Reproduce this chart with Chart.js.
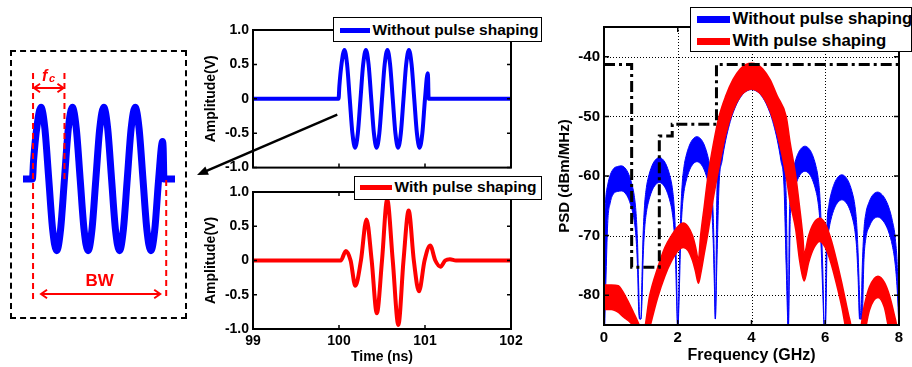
<!DOCTYPE html>
<html>
<head>
<meta charset="UTF-8">
<title>Pulse shaping: waveform and PSD</title>
<script src="https://cdn.jsdelivr.net/npm/chart.js"></script>
<style>
  body {
    margin: 0;
    width: 912px;
    height: 367px;
    position: relative;
    overflow: hidden;
    background: #fff;
    font-family: Arial, "Liberation Sans", sans-serif;
  }
  canvas { position: absolute; }
  .box {
    position: absolute;
    left: 10px; top: 50px; width: 177px; height: 269px;
    border: 2px dashed #000;
    box-sizing: border-box;
  }
  .legend {
    position: absolute;
    background: #fff;
    border: 1.5px solid #000;
    box-sizing: border-box;
    font-weight: bold;
    color: #000;
    white-space: nowrap;
    overflow: hidden;
  }
</style>
</head>
<body>

<div class="box"></div>
<canvas id="insetChart" width="175" height="268" style="left:11px; top:50px;"></canvas>
<canvas id="noShapeChart" width="360" height="170" style="left:190px; top:10px;"></canvas>
<canvas id="shapeChart" width="360" height="197" style="left:190px; top:170px;"></canvas>
<canvas id="psdChart" width="362" height="367" style="left:550px; top:0px;"></canvas>

<script>
  const seriesNames = ['Without pulse shaping', 'With pulse shaping'];
  const blue = '#0000ff';
  const red = '#ff0000';

  // time domain, without pulse shaping (ns, V)
  const timeA = [99, 99.5, 99.995, 100.004,
    100.031, 100.063, 100.094, 100.125, 100.156, 100.188, 100.219, 100.25,
    100.281, 100.313, 100.344, 100.375, 100.406, 100.438, 100.469, 100.5,
    100.531, 100.563, 100.594, 100.625, 100.656, 100.688, 100.719, 100.75,
    100.781, 100.813, 100.844, 100.875, 100.906, 100.938, 100.969, 101.0,
    101.031, 101.036, 101.042, 101.5, 102];
  const ampA = [0, 0, 0, 0.18,
    0.52, 0.71, 0.5, 0, -0.5, -0.71, -0.5, 0,
    0.5, 0.71, 0.5, 0, -0.5, -0.71, -0.5, 0,
    0.5, 0.71, 0.5, 0, -0.5, -0.71, -0.5, 0,
    0.5, 0.71, 0.5, 0, -0.5, -0.71, -0.5, 0,
    0.37, 0.3, 0, 0, 0];

  // time domain, with pulse shaping (ns, V)
  const timeB = [99, 99.5, 100.02, 100.08, 100.135, 100.19, 100.255, 100.32, 100.38,
    100.44, 100.5, 100.56, 100.625, 100.69, 100.75, 100.81, 100.87, 100.93,
    100.995, 101.06, 101.12, 101.18, 101.235, 101.29, 101.36, 101.5, 102];
  const ampB = [0, 0, 0, 0.14, 0, -0.37, 0, 0.6, 0,
    -0.77, 0, 0.89, 0, -0.94, 0, 0.73, 0, -0.45,
    0, 0.22, 0, -0.09, 0, 0.02, 0, 0, 0];

  const ampTicks = [-1, -0.5, 0, 0.5, 1];
  const ampTickLabels = ['-1.0', '-0.5', '0', '0.5', '1.0'];
  const timeTicks = [99, 100, 101, 102];
  const timeTickLabels = ['99', '100', '101', '102'];

  // inset markers (ns)
  const fcStart = 100.0;
  const fcEnd = 100.25;
  const bwEnd = 101.06;

  // PSD, without pulse shaping: upper and lower edge of the band (GHz, dBm/MHz)
  const freqBlue = [
    0, 0.05, 0.1, 0.17, 0.27, 0.37, 0.47, 0.57, 0.67, 0.77, 0.82, 0.87, 0.91, 0.94, 0.97,
    1.0, 1.03, 1.06, 1.1, 1.15, 1.2, 1.3, 1.4, 1.5, 1.6, 1.7, 1.8, 1.85, 1.9, 1.94, 1.97, 2.0,
    2.05, 2.08, 2.12, 2.17, 2.22, 2.32, 2.42, 2.52, 2.62, 2.72, 2.82, 2.87, 2.92, 2.96, 2.99, 3.02,
    3.06, 3.12, 3.2, 3.3, 3.4, 3.5, 3.6, 3.7, 3.8, 3.9, 4.0, 4.1, 4.2, 4.3, 4.4, 4.5, 4.6, 4.7, 4.8, 4.88, 4.94, 5.0,
    5.02, 5.05, 5.1, 5.15, 5.25, 5.35, 5.45, 5.55, 5.65, 5.75, 5.8, 5.85, 5.89, 5.93, 5.98,
    6.0, 6.02, 6.05, 6.1, 6.15, 6.25, 6.35, 6.45, 6.55, 6.65, 6.75, 6.8, 6.85, 6.89, 6.93, 6.97,
    7.0, 7.05, 7.1, 7.2, 7.3, 7.42, 7.52, 7.62, 7.72, 7.82, 7.9, 7.96, 8.0];
  const psdBlueHigh = [
    -69, -63.5, -61.5, -59.8, -58.7, -58.4, -58.3, -58.65, -59.7, -61.7, -63.3, -66.3, -71.3, -78.3, -84,
    -84, -76.9, -69.9, -64.9, -61.9, -60.3, -58.3, -57.25, -56.9, -57.25, -58.3, -60.3, -61.9, -64.9, -69.9, -76.9, -86,
    -73.4, -66.4, -61.4, -58.4, -56.8, -54.8, -53.75, -53.4, -53.75, -54.8, -56.8, -58.4, -61.4, -66.4, -73.4, -84,
    -63.3, -57.3, -53.3, -49.8, -47.2, -45.2, -43.7, -42.6, -41.85, -41.45, -41.3, -41.45, -41.85, -42.6, -43.7, -45.2, -47.2, -49.8, -53.3, -57.3, -63.3, -86,
    -70, -63, -60, -58.4, -56.4, -55.35, -55, -55.35, -56.4, -58.4, -60, -63, -68, -75, -86,
    -86, -75, -67.8, -64.8, -63.2, -61.2, -60.15, -59.8, -60.15, -61.2, -63.2, -64.8, -67.8, -72.8, -79.8, -84,
    -76, -69, -66.3, -64.2, -63.1, -62.7, -63, -63.8, -65.2, -67.5, -70.5, -76, -86];
  const psdBlueLow = [
    -90, -78, -68, -64.5, -62.9, -62.6, -62.5, -62.85, -63.9, -65.9, -67.5, -70.5, -75.5, -82.5, -84,
    -84, -81.1, -74.1, -69.1, -66.1, -64.5, -62.5, -61.45, -61.1, -61.45, -62.5, -64.5, -66.1, -69.1, -74.1, -81.1, -86,
    -77.6, -70.6, -65.6, -62.6, -61, -59, -57.95, -57.6, -57.95, -59, -61, -62.6, -65.6, -70.6, -77.6, -84,
    -75, -61.5, -57.5, -54, -51.4, -49.4, -47.9, -46.8, -46.05, -45.65, -45.5, -45.65, -46.05, -46.8, -47.9, -49.4, -51.4, -54, -57.5, -61.5, -75, -86,
    -80, -67.2, -64.2, -62.6, -60.6, -59.55, -59.2, -59.55, -60.6, -62.6, -64.2, -67.2, -72.2, -79.2, -86,
    -86, -83, -72, -69, -67.4, -65.4, -64.35, -64, -64.35, -65.4, -67.4, -69, -72, -77, -84, -84,
    -84, -74, -70.5, -68.4, -67.3, -66.9, -67.2, -68, -69.4, -71.7, -75, -80, -86];

  // PSD, with pulse shaping
  const freqRed = [
    0, 0.2, 0.39, 0.5, 0.6, 0.7, 0.8, 0.9, 0.97,
    1.07, 1.24, 1.45, 1.65, 1.83, 2.0, 2.15, 2.28, 2.4, 2.48,
    2.56, 2.62, 2.72, 2.82, 2.97, 3.12, 3.3, 3.5, 3.7, 3.85, 4.0, 4.15, 4.3, 4.5, 4.7, 4.94, 5.05, 5.2, 5.3, 5.39,
    5.43, 5.55, 5.7, 5.85, 6.0, 6.15, 6.3, 6.45, 6.57, 6.66, 6.75,
    6.93, 7.05, 7.2, 7.43, 7.6, 7.74, 7.9, 7.97];
  const psdRedHigh = [
    -78.3, -78.3, -78.4, -79.3, -80.4, -81.6, -82.9, -84.2, -85.2,
    -86, -80, -75.5, -72, -70, -68.5, -67.9, -68.5, -70, -71.8,
    -74, -70, -65, -60, -54.5, -50, -46.6, -43.8, -42, -41.3, -41.1, -41.3, -42, -43.8, -46.6, -50, -54.5, -60, -65, -70,
    -73, -70, -67.8, -67.1, -68, -70.5, -74, -78, -81.5, -84, -86,
    -86, -82, -78.6, -76.8, -77.8, -80, -84, -86];
  const psdRedLow = [
    -82.4, -82.4, -82.9, -83.5, -84, -84.5, -85.2, -86, -87,
    -90, -85.5, -80.5, -76.8, -74.3, -72.6, -72, -72.5, -74.2, -76,
    -78, -76.5, -73, -69.5, -63.5, -58.5, -53, -49, -46.6, -45.7, -45.4, -45.7, -46.6, -49, -53, -60, -64.5, -69, -74, -77,
    -77.6, -74.5, -72, -71, -72, -74.5, -78, -82, -86, -88, -90,
    -90, -87, -82.5, -80.4, -82, -86, -88, -90];

  // emission mask
  const maskFreq = [0, 0.75, 0.75, 1.5, 1.5, 1.85, 1.85, 3.05, 3.05, 8];
  const maskLevel = [-41.3, -41.3, -75.3, -75.3, -53.3, -53.3, -51.3, -51.3, -41.3, -41.3];

  const freqTicks = [0, 2, 4, 6, 8];
  const freqTickLabels = ['0', '2', '4', '6', '8'];
  const psdTicks = [-80, -70, -60, -50, -40];
  const psdTickLabels = ['-80', '-70', '-60', '-50', '-40'];

  const pts = (xs, ys) => xs.map((x, i) => ({ x: x, y: ys[i] }));

  Chart.defaults.font.family = 'Arial, "Liberation Sans", sans-serif';
  Chart.defaults.font.weight = 'bold';
  Chart.defaults.color = '#000';

  // box around the plot area, inward tick marks and optional dotted grid (matlab look)
  // a new plugin object for every chart
  function makeFrame(cfg) {
    return {
      id: 'frame',
      beforeDatasetsDraw(chart) {
        if (!cfg.grid) return;
        const { ctx, chartArea: a, scales } = chart;
        ctx.save();
        ctx.strokeStyle = '#000';
        ctx.lineWidth = 1;
        ctx.setLineDash([1, 2]);
        ctx.beginPath();
        scales.x.ticks.forEach(t => {
          const px = Math.round(scales.x.getPixelForValue(t.value)) + 0.5;
          ctx.moveTo(px, a.top); ctx.lineTo(px, a.bottom);
        });
        scales.y.ticks.forEach(t => {
          const py = Math.round(scales.y.getPixelForValue(t.value)) + 0.5;
          ctx.moveTo(a.left, py); ctx.lineTo(a.right, py);
        });
        ctx.stroke();
        ctx.restore();
      },
      afterDatasetsDraw(chart) {
        const { ctx, chartArea: a, scales } = chart;
        const len = cfg.tick;
        ctx.save();
        ctx.strokeStyle = '#000';
        ctx.lineWidth = 1.5;
        ctx.beginPath();
        scales.x.ticks.forEach(t => {
          const px = scales.x.getPixelForValue(t.value);
          ctx.moveTo(px, a.bottom); ctx.lineTo(px, a.bottom - len);
          ctx.moveTo(px, a.top); ctx.lineTo(px, a.top + len);
        });
        scales.y.ticks.forEach(t => {
          const py = scales.y.getPixelForValue(t.value);
          ctx.moveTo(a.left, py); ctx.lineTo(a.left + len, py);
          ctx.moveTo(a.right, py); ctx.lineTo(a.right - len, py);
        });
        ctx.stroke();
        ctx.lineWidth = cfg.width;
        ctx.strokeRect(a.left, a.top, a.right - a.left, a.bottom - a.top);
        ctx.restore();
      }
    };
  }

  function arrowHead(ctx, x, y, dir, size) {
    // open chevron pointing along dir (+1 right, -1 left)
    ctx.beginPath();
    ctx.moveTo(x - dir * size, y - size * 0.7);
    ctx.lineTo(x, y);
    ctx.lineTo(x - dir * size, y + size * 0.7);
    ctx.stroke();
  }

  function doubleArrow(ctx, xa, xb, y) {
    ctx.beginPath();
    ctx.moveTo(xa, y);
    ctx.lineTo(xb, y);
    ctx.stroke();
    arrowHead(ctx, xa, y, -1, 6);
    arrowHead(ctx, xb, y, 1, 6);
  }

  // red dashed markers, arrows and labels of the zoomed inset
  const insetMarks = {
    id: 'insetMarks',
    afterDraw(chart) {
      const { ctx } = chart;
      const sx = chart.scales.x;
      const x0 = sx.getPixelForValue(fcStart);
      const x1 = sx.getPixelForValue(fcEnd);
      const x2 = sx.getPixelForValue(bwEnd);
      ctx.save();
      ctx.strokeStyle = red;
      ctx.fillStyle = red;
      ctx.lineWidth = 2;
      ctx.setLineDash([6, 4]);
      ctx.beginPath();
      ctx.moveTo(x0, 23); ctx.lineTo(x0, 250);
      ctx.moveTo(x1, 23); ctx.lineTo(x1, 130);
      ctx.moveTo(x2, 130); ctx.lineTo(x2, 250);
      ctx.stroke();
      ctx.setLineDash([]);
      doubleArrow(ctx, x0 + 1, x1 - 1, 38);
      doubleArrow(ctx, x0 + 8, x2 - 6, 244);
      ctx.textAlign = 'left';
      ctx.textBaseline = 'alphabetic';
      ctx.font = 'italic bold 16px Arial, "Liberation Sans", sans-serif';
      ctx.fillText('f', x0 + 9, 31);
      ctx.font = 'italic bold 11px Arial, "Liberation Sans", sans-serif';
      ctx.fillText('c', x0 + 16, 32);
      ctx.font = 'bold 17px Arial, "Liberation Sans", sans-serif';
      ctx.textAlign = 'center';
      ctx.fillText('BW', (x0 + x2) / 2, 236);
      ctx.restore();
    }
  };

  // black arrow from the upper waveform to the inset
  const pointerArrow = {
    id: 'pointerArrow',
    afterDraw(chart) {
      const { ctx } = chart;
      const xs = chart.scales.x.getPixelForValue(99.98);
      const ys = chart.scales.y.getPixelForValue(-0.23);
      const xe = 7, ye = 165;
      const ang = Math.atan2(ye - ys, xe - xs);
      ctx.save();
      ctx.strokeStyle = '#000';
      ctx.fillStyle = '#000';
      ctx.lineWidth = 2.5;
      ctx.beginPath();
      ctx.moveTo(xs, ys);
      ctx.lineTo(xe - 6 * Math.cos(ang), ye - 6 * Math.sin(ang));
      ctx.stroke();
      ctx.beginPath();
      ctx.moveTo(xe, ye);
      ctx.lineTo(xe - 11 * Math.cos(ang) + 4.5 * Math.sin(ang), ye - 11 * Math.sin(ang) - 4.5 * Math.cos(ang));
      ctx.lineTo(xe - 11 * Math.cos(ang) - 4.5 * Math.sin(ang), ye - 11 * Math.sin(ang) + 4.5 * Math.cos(ang));
      ctx.closePath();
      ctx.fill();
      ctx.restore();
    }
  };

  function fixedAxis(values, labels, size, fontSize, extra) {
    return Object.assign({
      type: 'linear',
      grid: { display: false, drawTicks: false },
      border: { display: false },
      ticks: {
        autoSkip: false,
        maxRotation: 0,
        padding: 4,
        font: { size: fontSize, weight: 'bold' },
        color: '#000',
        callback: (v, i) => labels[i]
      },
      afterBuildTicks: s => { s.ticks = values.map(v => ({ value: v })); },
      afterFit: s => { if (s.isHorizontal()) s.height = size; else s.width = size; }
    }, extra);
  }

  function chartOptions(extra) {
    return Object.assign({
      responsive: false,
      animation: false,
      events: [],
      plugins: { legend: { display: false }, tooltip: { enabled: false } }
    }, extra);
  }

  function axisTitle(text, size, padding) {
    return { display: true, text: text, font: { size: size, weight: 'bold' }, color: '#000', padding: padding };
  }

  // power spectral density
  new Chart(document.getElementById('psdChart'), {
    type: 'line',
    data: {
      datasets: [
        {
          label: 'Mask',
          data: pts(maskFreq, maskLevel),
          borderColor: '#000',
          borderWidth: 3,
          borderDash: [11, 4, 3, 4],
          pointRadius: 0,
          fill: false
        },
        {
          label: seriesNames[1],
          data: pts(freqRed, psdRedHigh),
          borderColor: red,
          backgroundColor: red,
          borderWidth: 1.5,
          pointRadius: 0,
          cubicInterpolationMode: 'monotone',
          fill: '+1'
        },
        {
          label: seriesNames[1] + ' (lower edge)',
          data: pts(freqRed, psdRedLow),
          borderColor: red,
          borderWidth: 1.5,
          pointRadius: 0,
          cubicInterpolationMode: 'monotone',
          fill: false
        },
        {
          label: seriesNames[0],
          data: pts(freqBlue, psdBlueHigh),
          borderColor: blue,
          backgroundColor: blue,
          borderWidth: 1,
          pointRadius: 0,
          cubicInterpolationMode: 'monotone',
          fill: '+1'
        },
        {
          label: seriesNames[0] + ' (lower edge)',
          data: pts(freqBlue, psdBlueLow),
          borderColor: blue,
          borderWidth: 1,
          pointRadius: 0,
          cubicInterpolationMode: 'monotone',
          fill: false
        }
      ]
    },
    options: chartOptions({
      layout: { padding: { left: 0, right: 13, top: 27, bottom: 0 } },
      scales: {
        x: fixedAxis(freqTicks, freqTickLabels, 42, 15, {
          min: 0, max: 8,
          title: axisTitle('Frequency (GHz)', 16, { top: 0, bottom: 2 })
        }),
        y: fixedAxis(psdTicks, psdTickLabels, 54, 15, {
          min: -85, max: -35,
          title: axisTitle('PSD (dBm/MHz)', 15, { top: 6, bottom: 0 })
        })
      }
    }),
    plugins: [makeFrame({ width: 2, tick: 5, grid: true })]
  });

  // upper waveform
  new Chart(document.getElementById('noShapeChart'), {
    type: 'line',
    data: {
      datasets: [{
        label: seriesNames[0],
        data: pts(timeA, ampA),
        borderColor: blue,
        borderWidth: 4,
        pointRadius: 0,
        cubicInterpolationMode: 'monotone'
      }]
    },
    options: chartOptions({
      layout: { padding: { left: 0, right: 39, top: 20, bottom: 0 } },
      scales: {
        x: fixedAxis(timeTicks, timeTickLabels, 9, 14, {
          min: 99, max: 102,
          ticks: { display: false }
        }),
        y: fixedAxis(ampTicks, ampTickLabels, 63, 14, {
          min: -1, max: 1,
          title: axisTitle('Amplitude(V)', 14, { top: 13, bottom: 0 })
        })
      }
    }),
    plugins: [makeFrame({ width: 2, tick: 4, grid: false }), pointerArrow]
  });

  // lower waveform
  new Chart(document.getElementById('shapeChart'), {
    type: 'line',
    data: {
      datasets: [{
        label: seriesNames[1],
        data: pts(timeB, ampB),
        borderColor: red,
        borderWidth: 4,
        pointRadius: 0,
        cubicInterpolationMode: 'monotone'
      }]
    },
    options: chartOptions({
      layout: { padding: { left: 0, right: 39, top: 22, bottom: 0 } },
      scales: {
        x: fixedAxis(timeTicks, timeTickLabels, 38, 14, {
          min: 99, max: 102,
          title: axisTitle('Time (ns)', 14, { top: 0, bottom: 1 })
        }),
        y: fixedAxis(ampTicks, ampTickLabels, 63, 14, {
          min: -1, max: 1,
          title: axisTitle('Amplitude(V)', 14, { top: 13, bottom: 0 })
        })
      }
    }),
    plugins: [makeFrame({ width: 2, tick: 4, grid: false })]
  });

  // zoomed inset of the upper waveform
  new Chart(document.getElementById('insetChart'), {
    type: 'line',
    data: {
      datasets: [{
        label: seriesNames[0],
        data: pts(timeA, ampA),
        borderColor: blue,
        borderWidth: 7,
        pointRadius: 0,
        cubicInterpolationMode: 'monotone'
      }]
    },
    options: chartOptions({
      layout: { padding: { left: 12, right: 11, top: 0, bottom: 0 } },
      scales: {
        x: { type: 'linear', display: false, min: 99.92, max: 101.13 },
        y: { type: 'linear', display: false, min: -1.376, max: 1.277 }
      }
    }),
    plugins: [insetMarks]
  });

  // legends as html boxes
  function addLegend(box, rows) {
    const el = document.createElement('div');
    el.className = 'legend';
    Object.assign(el.style, {
      left: box.left + 'px', top: box.top + 'px',
      width: box.width + 'px', height: box.height + 'px',
      fontSize: box.font + 'px'
    });
    rows.forEach(r => {
      const sw = document.createElement('div');
      Object.assign(sw.style, {
        position: 'absolute', left: box.swatchX + 'px', width: box.swatchW + 'px',
        top: (r.y - box.swatchH / 2) + 'px', height: box.swatchH + 'px', background: r.color
      });
      const tx = document.createElement('div');
      tx.textContent = r.label;
      Object.assign(tx.style, {
        position: 'absolute', left: box.textX + 'px',
        top: (r.y - box.font * 0.6) + 'px', lineHeight: (box.font * 1.2) + 'px'
      });
      el.append(sw, tx);
    });
    document.body.appendChild(el);
  }

  addLegend({ left: 333, top: 17, width: 209, height: 25, font: 15.5, swatchX: 5.5, swatchW: 30, swatchH: 5, textX: 38.5 },
    [{ label: seriesNames[0], color: blue, y: 12.5 }]);
  addLegend({ left: 354, top: 176, width: 188, height: 24, font: 15.5, swatchX: 4.5, swatchW: 32, swatchH: 5, textX: 39.5 },
    [{ label: seriesNames[1], color: red, y: 10.5 }]);
  addLegend({ left: 690, top: 7, width: 222, height: 45, font: 16.8, swatchX: 5.5, swatchW: 33, swatchH: 7, textX: 41.5 },
    [{ label: seriesNames[0], color: blue, y: 11.5 }, { label: seriesNames[1], color: red, y: 33 }]);
</script>

</body>
</html>
